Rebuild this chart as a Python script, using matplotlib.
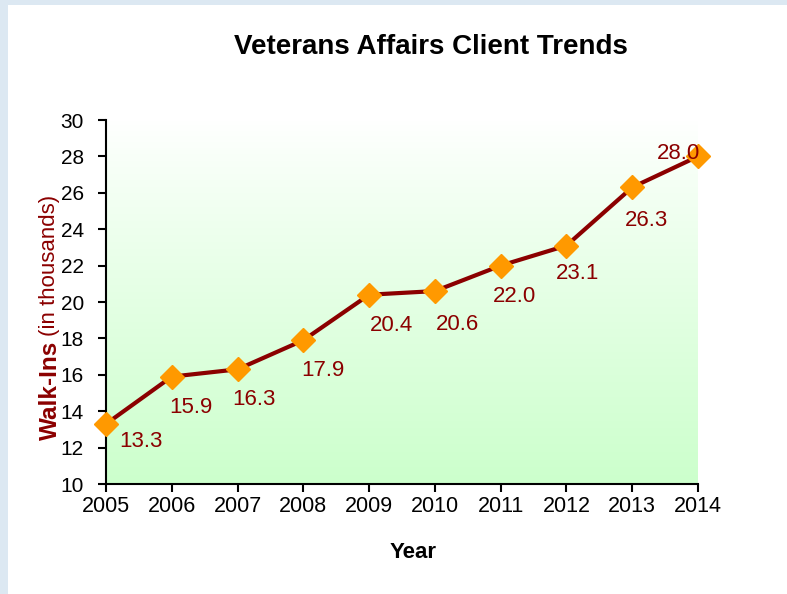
import numpy as np
import matplotlib.pyplot as plt
from matplotlib.patches import Rectangle

plt.rcParams['font.family'] = ['Liberation Sans', 'DejaVu Sans']

# Data
years = [2005, 2006, 2007, 2008, 2009, 2010, 2011, 2012, 2013, 2014]
walk_ins = [13.3, 15.9, 16.3, 17.9, 20.4, 20.6, 22.0, 23.1, 26.3, 28.0]
y_ticks = [10, 12, 14, 16, 18, 20, 22, 24, 26, 28, 30]

line_color = '#8B0000'
marker_color = '#FF9900'

fig = plt.figure(figsize=(7.87, 5.94), dpi=100)
fig.patch.set_facecolor('#dce8f2')
# white chart card on the slide background
fig.patches.append(Rectangle((8 / 787, 0), 1, 1 - 5 / 594, transform=fig.transFigure,
                             facecolor='white', edgecolor='none', zorder=-1))

ax = fig.add_axes([106 / 787, 1 - 484 / 594, 592 / 787, 364 / 594])
ax.set_facecolor('none')
ax.set_zorder(2)

# gradient fill of the plot area: white at top, light green at bottom
grad = np.linspace(0, 1, 256).reshape(-1, 1)
top = np.array([1.0, 1.0, 1.0])
bottom = np.array([0.80, 1.0, 0.80])
frac = grad ** 0.9
img = top + (bottom - top) * frac[..., None]
ax.imshow(img, extent=[0, 1, 0, 1], transform=ax.transAxes, aspect='auto',
          origin='upper', zorder=0)

ax.plot(years, walk_ins, color=line_color, lw=3, zorder=3, clip_on=False)
ax.plot(years, walk_ins, ls='none', marker='D', ms=12, color=marker_color,
        zorder=4, clip_on=False)

# data labels (offsets in points)
offsets = [(25, -13), (14, -22), (12, -22), (14, -22), (16, -22),
           (16, -24), (10, -22), (8, -20), (10, -24), (-14, 2)]
for x, y, off in zip(years, walk_ins, offsets):
    ax.annotate(f'{y:.1f}', (x, y), xytext=off, textcoords='offset points',
                ha='center', va='center', color=line_color, fontsize=16, zorder=5)

ax.set_xlim(2005, 2014)
ax.set_ylim(10, 30)
ax.set_xticks(years)
ax.set_yticks(y_ticks)
ax.tick_params(axis='both', direction='out', length=6, width=1.5, colors='black')
ax.tick_params(axis='y', labelsize=15, pad=10)
ax.tick_params(axis='x', labelsize=15.5, pad=3)
ax.spines['top'].set_visible(False)
ax.spines['right'].set_visible(False)
for s in ('left', 'bottom'):
    ax.spines[s].set_linewidth(1.5)

fig.text(431 / 787, 1 - 47 / 594, 'Veterans Affairs Client Trends', ha='center',
         va='center', fontsize=20, fontweight='bold')
fig.text(413 / 787, 1 - 552 / 594, 'Year', ha='center', va='center',
         fontsize=16, fontweight='bold')
fig.text(50 / 787, 1 - 390 / 594, 'Walk-Ins', rotation=90, ha='center',
         va='center', fontsize=17.5, fontweight='bold', color=line_color)
fig.text(50 / 787, 1 - 265 / 594, '(in thousands)', rotation=90, ha='center',
         va='center', fontsize=16, color=line_color)

fig.savefig('out.png', dpi=100, facecolor=fig.get_facecolor())
